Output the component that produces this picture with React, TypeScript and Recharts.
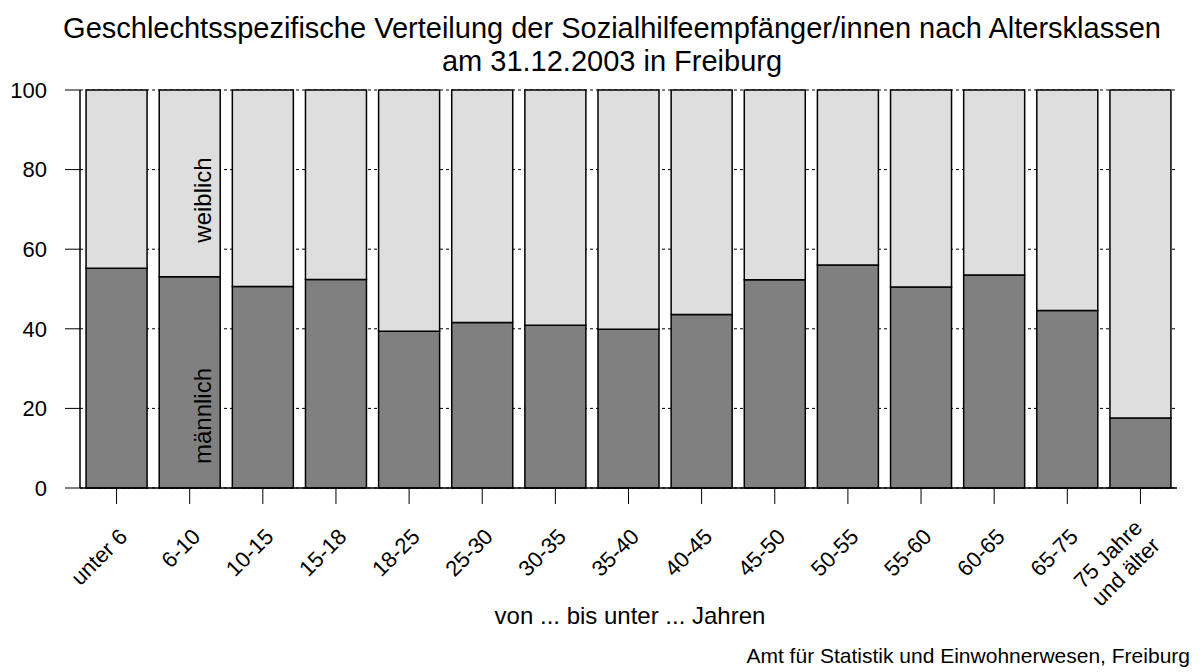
import React from 'react';
import { BarChart, Bar, XAxis, YAxis, CartesianGrid, LabelList } from 'recharts';

const categories = ['unter 6', '6-10', '10-15', '15-18', '18-25', '25-30', '30-35', '35-40', '40-45', '45-50', '50-55', '55-60', '60-65', '65-75', '75 Jahre\nund älter'];
const maleShare = [55.2, 53.1, 50.6, 52.4, 39.4, 41.6, 40.9, 39.9, 43.6, 52.3, 56.0, 50.5, 53.5, 44.6, 17.6];
const femaleShare = [44.8, 46.9, 49.4, 47.6, 60.6, 58.4, 59.1, 60.1, 56.4, 47.7, 44.0, 49.5, 46.5, 55.4, 82.4];
const yTicks = [0, 20, 40, 60, 80, 100];

const data = categories.map((cat, i) => ({ cat, male: maleShare[i], female: femaleShare[i] }));

const FONT = '"Liberation Sans", Arial, Helvetica, sans-serif';

const XTick = (props: any) => {
  const { x, y, payload } = props;
  const lines = String(payload.value).split('\n');
  const lh = 25;
  return (
    <g transform={`translate(${x + 12},${y + 32})`}>
      <text transform="rotate(-45)" textAnchor="end" fontSize={22} fontFamily={FONT} fill="#000">
        {lines.map((l, i) => (
          <tspan key={i} x={0} dy={i === 0 ? -((lines.length - 1) * lh) / 2 : lh}>{l}</tspan>
        ))}
      </text>
    </g>
  );
};

const maleLabel = (props: any) => {
  const { x, y, height, index } = props;
  if (index !== 1) return null;
  const cx = Number(x) + 52;
  const cy = Number(y) + Number(height) - 72;
  return (
    <text x={cx} y={cy} transform={`rotate(-90 ${cx} ${cy})`} textAnchor="middle" fontSize={24} fontFamily={FONT} fill="#000">männlich</text>
  );
};

const femaleLabel = (props: any) => {
  const { x, y, index } = props;
  if (index !== 1) return null;
  const cx = Number(x) + 52;
  const cy = Number(y) + 110;
  return (
    <text x={cx} y={cy} transform={`rotate(-90 ${cx} ${cy})`} textAnchor="middle" fontSize={24} fontFamily={FONT} fill="#000">weiblich</text>
  );
};

export default function App() {
  return (
    <div style={{ position: 'absolute', left: 0, top: 0, width: 1200, height: 672, background: '#fff', fontFamily: FONT, color: '#000' }}>
      <div style={{ position: 'absolute', left: 0, width: 1224, top: 12, textAlign: 'center', fontSize: 29, lineHeight: '33px', whiteSpace: 'nowrap' }}>
        Geschlechtsspezifische Verteilung der Sozialhilfeempfänger/innen nach Altersklassen
        <br />
        am 31.12.2003 in Freiburg
      </div>
      <BarChart width={1200} height={672} data={data} margin={{ top: 90, right: 23, bottom: 0, left: 0 }} barCategoryGap="8.3%">
        <CartesianGrid vertical={false} stroke="#000" strokeDasharray="3 3" />
        <XAxis dataKey="cat" height={184} interval={0} tickSize={16} tickLine={{ stroke: '#000' }} axisLine={{ stroke: '#000', strokeWidth: 1.5 }} tick={<XTick />} />
        <XAxis xAxisId="top" dataKey="cat" orientation="top" height={0} tick={false} tickLine={false} axisLine={{ stroke: '#000', strokeWidth: 1.5 }} />
        <YAxis domain={[0, 100]} ticks={yTicks} width={80} tickSize={15} tickMargin={18} tickLine={{ stroke: '#000' }} axisLine={{ stroke: '#000', strokeWidth: 1.5 }} tick={{ fontSize: 22, fill: '#000', fontFamily: FONT }} />
        <YAxis yAxisId="right" orientation="right" domain={[0, 100]} width={0} tick={false} tickLine={false} axisLine={{ stroke: '#000', strokeWidth: 1.5 }} />
        <Bar dataKey="male" stackId="a" fill="#808080" stroke="#000" strokeWidth={1.5} isAnimationActive={false}>
          <LabelList dataKey="male" content={maleLabel} />
        </Bar>
        <Bar dataKey="female" stackId="a" fill="#dedede" stroke="#000" strokeWidth={1.5} isAnimationActive={false}>
          <LabelList dataKey="female" content={femaleLabel} />
        </Bar>
      </BarChart>
      <div style={{ position: 'absolute', left: 0, width: 1260, top: 602, textAlign: 'center', fontSize: 24, whiteSpace: 'nowrap' }}>von ... bis unter ... Jahren</div>
      <div style={{ position: 'absolute', right: 10, top: 644, fontSize: 21, whiteSpace: 'nowrap' }}>Amt für Statistik und Einwohnerwesen, Freiburg</div>
    </div>
  );
}
